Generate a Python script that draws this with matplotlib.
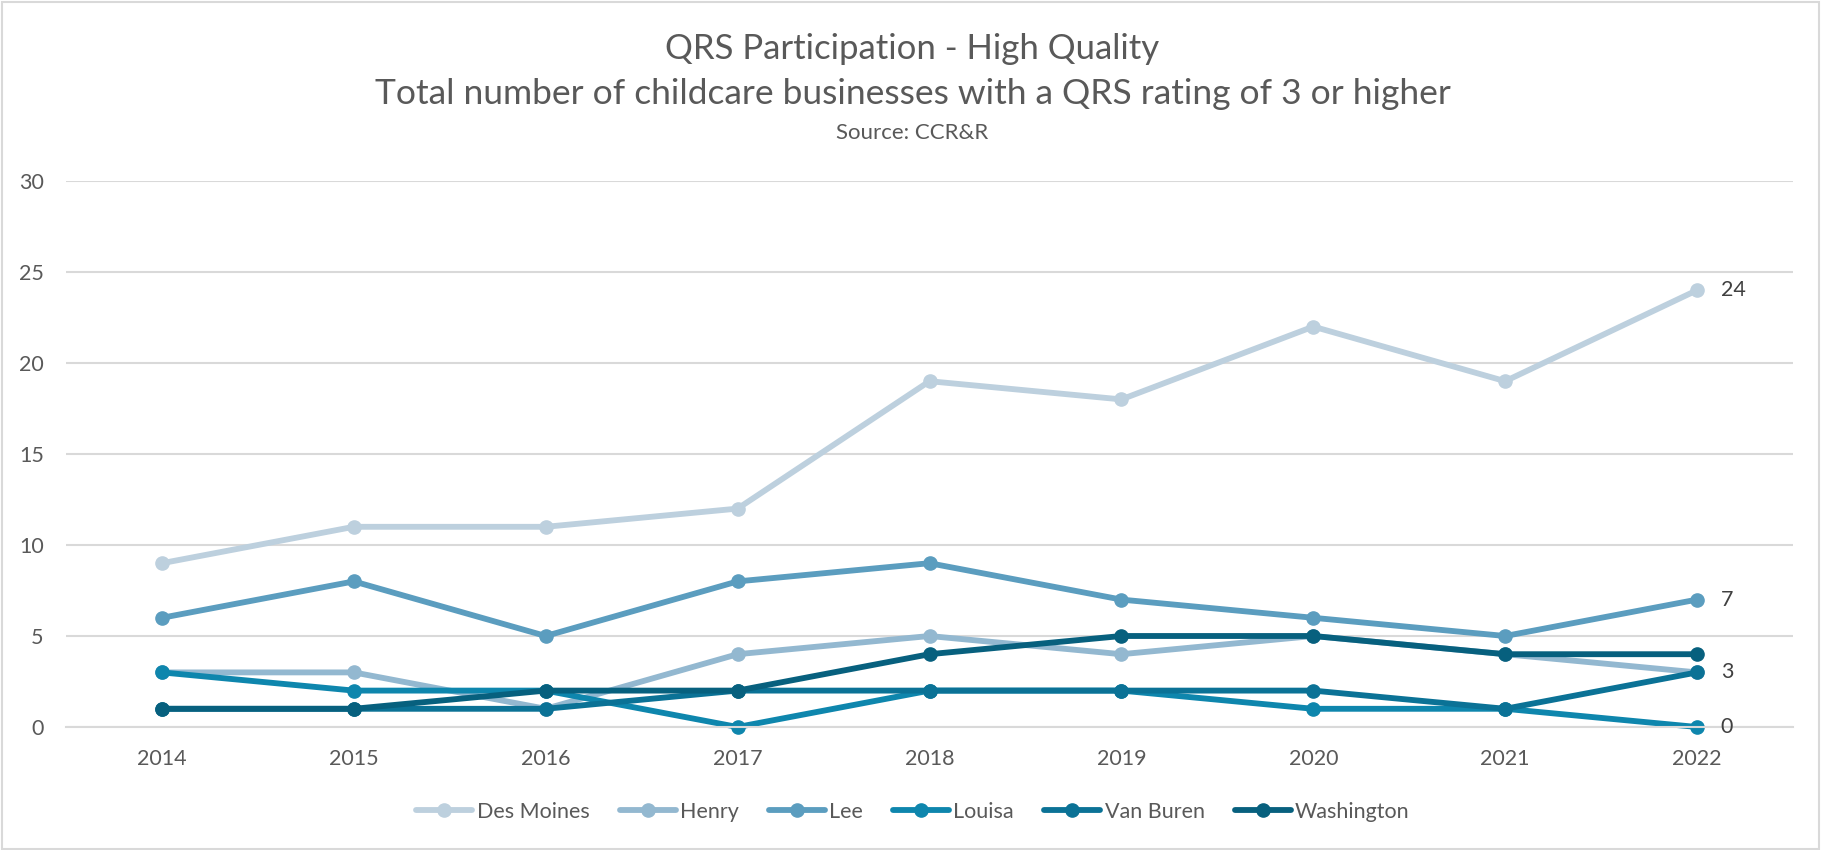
import matplotlib
matplotlib.use("Agg")
import matplotlib.pyplot as plt
from matplotlib.patches import Rectangle

# data
years = ["2014", "2015", "2016", "2017", "2018", "2019", "2020", "2021", "2022"]
counties = ["Des Moines", "Henry", "Lee", "Louisa", "Van Buren", "Washington"]
des_moines = [9, 11, 11, 12, 19, 18, 22, 19, 24]
henry = [3, 3, 1, 4, 5, 4, 5, 4, 3]
lee = [6, 8, 5, 8, 9, 7, 6, 5, 7]
louisa = [3, 2, 2, 0, 2, 2, 1, 1, 0]
van_buren = [1, 1, 1, 2, 2, 2, 2, 1, 3]
washington = [1, 1, 2, 2, 4, 5, 5, 4, 4]
series = [des_moines, henry, lee, louisa, van_buren, washington]
colors = ["#BDD0DE", "#93B8D0", "#5B9DBF", "#0E86AD", "#0B7296", "#07607E"]
labelled = ["Des Moines", "Lee", "Van Buren", "Louisa"]  # end labels shown

plt.rcParams['font.family'] = ['Lato', 'DejaVu Sans']
text_col = "#595959"

fig = plt.figure(figsize=(18.25, 8.5), dpi=100)
ax = fig.add_axes([66 / 1825, 1 - 727 / 850, 1727 / 1825, 546 / 850])

x = list(range(len(years)))
for name, vals, c in zip(counties, series, colors):
    ax.plot(x, vals, color=c, linewidth=4.2, marker="o", markersize=9.5,
            solid_capstyle="round", label=name)
    if name in labelled:
        ax.annotate(str(vals[-1]), (x[-1], vals[-1]), xytext=(17, 0),
                    textcoords="offset points", va="center", ha="left",
                    fontsize=15.5, color="#404040")

ax.set_xlim(-0.5, len(years) - 0.5)
ax.set_ylim(0, 30)
ax.set_xticks(x)
ax.set_xticklabels(years)
ax.set_yticks(range(0, 31, 5))
ax.grid(axis="y", color="#D9D9D9", linewidth=1.5)
ax.set_axisbelow(True)
for s in ["top", "right", "left"]:
    ax.spines[s].set_visible(False)
ax.spines["bottom"].set_color("#D9D9D9")
ax.spines["bottom"].set_linewidth(1.5)
ax.tick_params(length=0, labelsize=15.5, labelcolor=text_col)
ax.tick_params(axis="y", pad=16)
ax.tick_params(axis="x", pad=16)
for ln in ax.lines:
    ln.set_clip_on(False)

fig.text(0.5, 1 - 49 / 850, "QRS Participation - High Quality", ha="center",
         va="center", fontsize=25, color=text_col)
fig.text(0.5, 1 - 94 / 850,
         "Total number of childcare businesses with a QRS rating of 3 or higher",
         ha="center", va="center", fontsize=25.5, color=text_col)
fig.text(0.5, 1 - 133 / 850, "Source: CCR&R", ha="center", va="center",
         fontsize=16, color=text_col)

fig.legend(loc="center", bbox_to_anchor=(913 / 1825, 1 - 812 / 850), ncol=6,
           frameon=False, fontsize=15.5, handlelength=2.6, handletextpad=0.2,
           columnspacing=1.4, labelcolor=text_col)

# outer chart border
fig.patches.append(Rectangle((1.5 / 1825, 1 / 850), 1817 / 1825, 847 / 850,
                             transform=fig.transFigure, fill=False,
                             edgecolor="#D9D9D9", linewidth=1.5))

fig.savefig("out.png", dpi=100)
